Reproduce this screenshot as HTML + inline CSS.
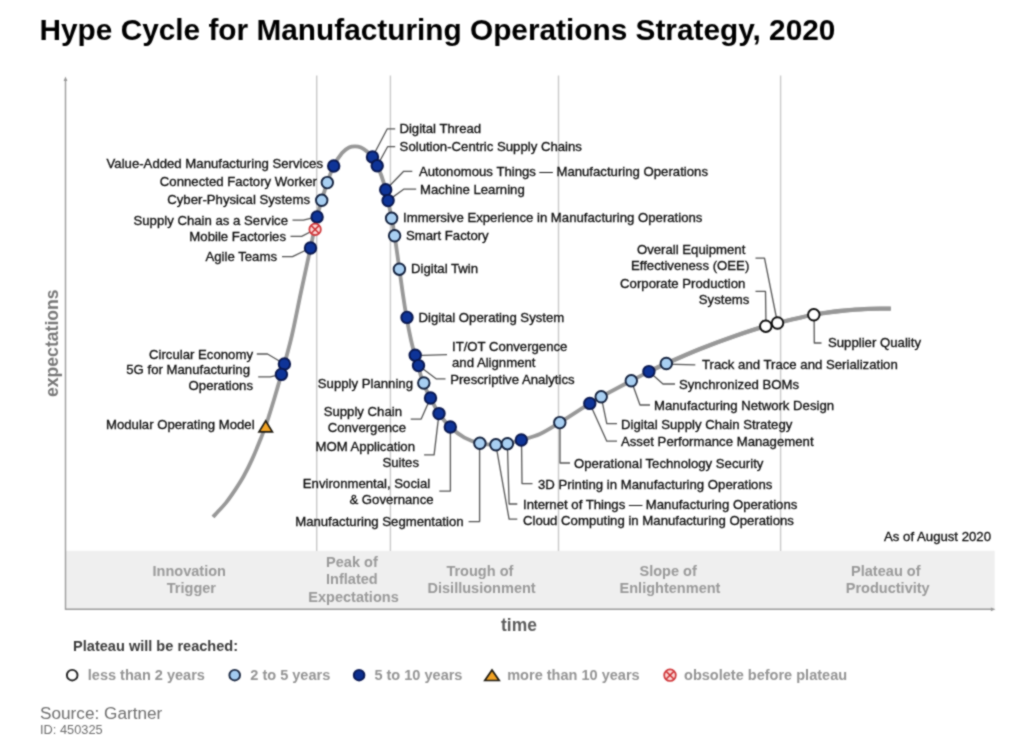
<!DOCTYPE html>
<html lang="en"><head><meta charset="utf-8">
<title>Hype Cycle for Manufacturing Operations Strategy, 2020</title>
<style>
html,body{margin:0;padding:0;background:#fff;}
body{width:1024px;height:748px;overflow:hidden;}
svg{display:block;font-family:"Liberation Sans", sans-serif;}
.lb{font-size:13.18px;fill:#0c0c0c;stroke:#0c0c0c;stroke-width:0.3px;}
.ph{font-size:14.54px;font-weight:bold;fill:#999;text-anchor:middle;}
.lg{font-size:14.54px;font-weight:bold;fill:#949494;}
.ld{fill:none;stroke:#555;stroke-width:1.3;stroke-linejoin:round;}
.dk{fill:#0e3498;stroke:#09174e;stroke-width:1.9;}
.lt{fill:#a8cff2;stroke:#12203d;stroke-width:1.9;}
.wh{fill:#ffffff;stroke:#0c0c0c;stroke-width:1.9;}
.tr{fill:#f2a324;stroke:#1e1a10;stroke-width:1.7;stroke-linejoin:miter;}
.ob{fill:#fbd9d6;stroke:#cf3438;stroke-width:1.7;}
</style></head><body>
<svg width="1024" height="748" viewBox="0 0 1024 748">
<rect width="1024" height="748" fill="#ffffff"/>
<defs><filter id="soft" x="0" y="0" width="1024" height="748" filterUnits="userSpaceOnUse" color-interpolation-filters="sRGB"><feConvolveMatrix order="3" kernelMatrix="1 2 1 2 8 2 1 2 1" divisor="20" edgeMode="duplicate" preserveAlpha="true"/></filter></defs>
<g filter="url(#soft)">
<rect width="1024" height="748" fill="#ffffff"/>
<text x="39.5" y="39.9" font-size="29.8px" font-weight="bold" fill="#000">Hype Cycle for Manufacturing Operations Strategy, 2020</text>
<rect x="66" y="550.8" width="928.7" height="58.5" fill="#efefef"/>
<line x1="316.7" y1="75.5" x2="316.7" y2="551" stroke="#c9c9c9" stroke-width="1.4"/>
<line x1="390.4" y1="75.5" x2="390.4" y2="551" stroke="#c9c9c9" stroke-width="1.4"/>
<line x1="558.5" y1="75.5" x2="558.5" y2="551" stroke="#c9c9c9" stroke-width="1.4"/>
<line x1="780.6" y1="75.5" x2="780.6" y2="551" stroke="#c9c9c9" stroke-width="1.4"/>
<path d="M65.5,80V609.3H992" fill="none" stroke="#9c9c9c" stroke-width="1.4"/>
<path d="M65.5,76.5l-1.9,4.6h3.8z" fill="#979797"/>
<path d="M995.5,609.3l-4.6,-1.9v3.8z" fill="#979797"/>
<path d="M213.0,517.0C213.7,516.2 215.2,514.6 217.4,512.2C219.6,509.8 223.2,506.2 226.1,502.6C229.0,499.0 231.9,494.8 234.8,490.4C237.7,486.0 240.6,481.7 243.5,476.5C246.4,471.3 249.3,465.5 252.2,459.1C255.1,452.7 258.7,443.8 260.9,438.3C263.1,432.8 264.2,430.1 265.6,426.0C267.1,421.9 268.2,418.2 269.6,413.9C271.0,409.6 271.9,406.6 273.9,400.0C275.9,393.4 279.6,380.4 281.4,374.4C283.1,368.4 282.6,370.6 284.4,364.0C286.2,357.4 289.2,347.0 292.0,335.0C294.8,323.0 297.9,306.5 301.0,292.0C304.1,277.5 307.8,260.5 310.5,248.0C313.2,235.5 315.1,224.8 317.0,216.8C318.9,208.9 320.0,206.0 321.7,200.3C323.4,194.6 325.3,188.2 327.3,182.5C329.3,176.8 331.2,170.9 333.7,166.0C336.1,161.1 339.4,156.1 342.0,153.0C344.6,149.9 346.8,148.6 349.0,147.5C351.2,146.4 353.0,146.3 355.0,146.3C357.0,146.3 359.0,146.6 361.0,147.5C363.0,148.4 365.1,149.9 367.0,151.5C368.9,153.1 370.8,154.6 372.5,157.0C374.2,159.4 375.7,162.6 377.2,165.8C378.7,169.0 380.1,172.0 381.5,176.0C382.9,180.0 384.7,185.6 385.8,189.7C386.9,193.8 387.0,195.8 388.0,200.6C389.0,205.4 390.6,212.4 391.7,218.3C392.8,224.2 393.4,227.4 394.7,235.9C396.0,244.4 398.0,259.3 399.4,269.2C400.8,279.1 401.8,286.9 403.0,295.0C404.2,303.1 405.3,310.0 406.6,317.5C407.9,325.0 409.6,333.8 411.0,340.0C412.4,346.2 413.6,350.8 414.8,355.0C416.0,359.2 416.6,360.8 418.0,365.5C419.4,370.2 421.3,378.1 423.4,383.5C425.5,388.9 427.9,393.0 430.5,398.0C433.1,403.0 435.7,408.8 439.0,413.6C442.3,418.4 446.1,423.0 450.3,427.0C454.5,431.0 459.5,434.9 464.4,437.6C469.3,440.3 474.6,442.1 479.9,443.3C485.1,444.5 491.3,444.7 495.9,444.8C500.5,444.9 503.2,444.5 507.4,443.7C511.6,442.9 515.9,441.6 521.3,440.0C526.7,438.4 533.6,436.9 540.0,434.0C546.4,431.1 551.5,427.7 559.8,422.6C568.1,417.5 582.9,407.7 589.8,403.4C596.7,399.1 594.3,400.6 601.2,396.8C608.1,393.0 623.3,385.0 631.3,380.8C639.2,376.6 643.1,374.5 648.9,371.6C654.7,368.7 657.8,367.3 666.3,363.5C674.8,359.7 688.5,353.6 700.0,349.0C711.5,344.4 724.0,339.8 735.0,336.0C746.0,332.2 756.8,328.7 766.0,326.0C775.2,323.3 782.0,321.9 790.0,320.0C798.0,318.1 807.8,315.7 814.0,314.5C820.2,313.3 822.7,313.2 827.0,312.6C831.3,312.0 835.3,311.5 840.0,311.0C844.7,310.5 850.3,310.0 855.0,309.6C859.7,309.2 863.8,309.0 868.0,308.8C872.2,308.6 876.2,308.6 880.0,308.6C883.8,308.6 889.0,308.6 890.8,308.6" fill="none" stroke="#989898" stroke-width="3.8" stroke-linecap="butt" stroke-linejoin="round"/>
<path d="M648.9,371.6C651.8,370.2 657.8,367.3 666.3,363.5C674.8,359.7 688.5,353.6 700.0,349.0C711.5,344.4 724.0,339.8 735.0,336.0C746.0,332.2 756.8,328.7 766.0,326.0C775.2,323.3 782.0,321.9 790.0,320.0C798.0,318.1 807.8,315.7 814.0,314.5C820.2,313.3 822.7,313.2 827.0,312.6C831.3,312.0 835.3,311.5 840.0,311.0C844.7,310.5 850.3,310.0 855.0,309.6C859.7,309.2 863.8,309.0 868.0,308.8C872.2,308.6 876.2,308.6 880.0,308.6C883.8,308.6 889.0,308.6 890.8,308.6" fill="none" stroke="#989898" stroke-width="4.3" stroke-linecap="butt" stroke-linejoin="round"/>
<polyline class="ld" points="292.5,220.2 303.3,220.2 317,216.8"/>
<polyline class="ld" points="290.5,236.3 301.7,236.3 315,229.5"/>
<polyline class="ld" points="282,256.6 292.5,256.6 310.5,248"/>
<polyline class="ld" points="256.8,354 267.5,354 284.4,364"/>
<polyline class="ld" points="258.2,376.8 270.2,376.8 281.4,374.4"/>
<polyline class="ld" points="395.2,128.8 387.3,128.8 372.5,157"/>
<polyline class="ld" points="395.2,146.7 387.6,146.7 377.2,165.8"/>
<polyline class="ld" points="412.3,171.3 403.7,171.3 385.8,189.7"/>
<polyline class="ld" points="416.2,189.2 403.7,189.2 388,200.6"/>
<polyline class="ld" points="447,354.6 415.2,355.6"/>
<polyline class="ld" points="445.5,378.9 436.4,378.9 418.5,365.6"/>
<polyline class="ld" points="410.7,419.1 421.2,419.1 430.5,398"/>
<polyline class="ld" points="424.1,454.8 434.1,454.8 439,413.6"/>
<polyline class="ld" points="439.3,491.1 450.4,491.1 450.4,427"/>
<polyline class="ld" points="468.6,521.6 479.6,521.6 479.6,443.3"/>
<polyline class="ld" points="517.3,519.2 509.1,519.2 495.9,444.8"/>
<polyline class="ld" points="517.3,504 509.1,504 507.4,443.7"/>
<polyline class="ld" points="532.5,483.6 522,483.6 521.5,440"/>
<polyline class="ld" points="570,463 560,463 560,422.6"/>
<polyline class="ld" points="617,441.2 606.8,441.2 589.8,403.4"/>
<polyline class="ld" points="617,423.7 606.8,423.7 601.2,396.8"/>
<polyline class="ld" points="650,405 640,405 631.3,380.8"/>
<polyline class="ld" points="675,384 663,384 648.9,371.6"/>
<polyline class="ld" points="695.3,364.9 666.3,364.2"/>
<polyline class="ld" points="821.5,343 814.3,343 814.1,314.8"/>
<polyline class="ld" points="755.5,258.2 764.5,258.2 777.5,323"/>
<polyline class="ld" points="755.5,291.4 765.5,291.4 766,326.2"/>
<circle class="dk" cx="333.7" cy="166" r="5.75"/>
<circle class="lt" cx="327.3" cy="182.6" r="5.75"/>
<circle class="lt" cx="321.7" cy="200.3" r="5.75"/>
<circle class="dk" cx="317.1" cy="216.9" r="5.75"/>
<circle class="ob" cx="315.1" cy="229.4" r="5.75"/><path d="M311.54,225.84L318.67,232.97M318.67,225.84L311.54,232.97" stroke="#cf3438" stroke-width="1.6" fill="none"/>
<circle class="dk" cx="310.5" cy="248" r="5.75"/>
<circle class="dk" cx="284.4" cy="364" r="5.75"/>
<circle class="dk" cx="281.4" cy="374.4" r="5.75"/>
<path class="tr" d="M265.7,420.9L272.4,431.9H259.0Z"/>
<circle class="dk" cx="372.5" cy="157" r="5.75"/>
<circle class="dk" cx="377.2" cy="165.8" r="5.75"/>
<circle class="dk" cx="385.7" cy="189.8" r="5.75"/>
<circle class="dk" cx="388.1" cy="200.6" r="5.75"/>
<circle class="lt" cx="391.6" cy="218.3" r="5.75"/>
<circle class="lt" cx="394.6" cy="235.8" r="5.75"/>
<circle class="lt" cx="399.4" cy="269.2" r="5.75"/>
<circle class="dk" cx="407.0" cy="317.4" r="5.75"/>
<circle class="dk" cx="415.2" cy="355.2" r="5.75"/>
<circle class="dk" cx="418.5" cy="365.6" r="5.75"/>
<circle class="lt" cx="423.8" cy="383.0" r="5.75"/>
<circle class="dk" cx="430.5" cy="398" r="5.75"/>
<circle class="dk" cx="439" cy="413.6" r="5.75"/>
<circle class="dk" cx="450.3" cy="427" r="5.75"/>
<circle class="lt" cx="479.9" cy="443.3" r="5.75"/>
<circle class="lt" cx="495.9" cy="444.8" r="5.75"/>
<circle class="lt" cx="507.4" cy="443.7" r="5.75"/>
<circle class="dk" cx="521.3" cy="440" r="5.75"/>
<circle class="lt" cx="559.8" cy="422.6" r="5.75"/>
<circle class="dk" cx="589.8" cy="403.4" r="5.75"/>
<circle class="lt" cx="601.2" cy="396.8" r="5.75"/>
<circle class="lt" cx="631.3" cy="380.8" r="5.75"/>
<circle class="dk" cx="648.9" cy="371.6" r="5.75"/>
<circle class="lt" cx="666.3" cy="363.5" r="5.75"/>
<circle class="wh" cx="765.8" cy="326.2" r="5.75"/>
<circle class="wh" cx="777.5" cy="323" r="5.75"/>
<circle class="wh" cx="813.8" cy="314.8" r="5.75"/>
<text class="lb" x="323" y="167.5" text-anchor="end">Value-Added Manufacturing Services</text>
<text class="lb" x="317" y="186" text-anchor="end">Connected Factory Worker</text>
<text class="lb" x="310" y="204" text-anchor="end">Cyber-Physical Systems</text>
<text class="lb" x="288" y="224.5" text-anchor="end">Supply Chain as a Service</text>
<text class="lb" x="286" y="241" text-anchor="end">Mobile Factories</text>
<text class="lb" x="277" y="261.1" text-anchor="end">Agile Teams</text>
<text class="lb" x="253" y="358.5" text-anchor="end">Circular Economy</text>
<text class="lb" text-anchor="end"><tspan x="250" y="374">5G for Manufacturing</tspan><tspan x="253" y="389.5"> Operations</tspan></text>
<text class="lb" x="254.6" y="429" text-anchor="end">Modular Operating Model</text>
<text class="lb" x="413" y="387.5" text-anchor="end">Supply Planning</text>
<text class="lb" text-anchor="end"><tspan x="402" y="416">Supply Chain</tspan><tspan x="406" y="432"> Convergence</tspan></text>
<text class="lb" text-anchor="end"><tspan x="415" y="451">MOM Application</tspan><tspan x="419" y="467"> Suites</tspan></text>
<text class="lb" text-anchor="end"><tspan x="430.2" y="488.2">Environmental, Social</tspan><tspan x="433.6" y="503.6"> &amp; Governance</tspan></text>
<text class="lb" x="463.6" y="526.1" text-anchor="end">Manufacturing Segmentation</text>
<text class="lb" x="399.4" y="133.1" text-anchor="start">Digital Thread</text>
<text class="lb" x="399.6" y="150.9" text-anchor="start">Solution-Centric Supply Chains</text>
<text class="lb" x="419" y="176" text-anchor="start">Autonomous Things — Manufacturing Operations</text>
<text class="lb" x="420" y="193.5" text-anchor="start">Machine Learning</text>
<text class="lb" x="403" y="222" text-anchor="start">Immersive Experience in Manufacturing Operations</text>
<text class="lb" x="406" y="240" text-anchor="start">Smart Factory</text>
<text class="lb" x="411" y="273" text-anchor="start">Digital Twin</text>
<text class="lb" x="418.6" y="321.7" text-anchor="start">Digital Operating System</text>
<text class="lb" text-anchor="start"><tspan x="452" y="351">IT/OT Convergence </tspan><tspan x="452" y="366.9">and Alignment</tspan></text>
<text class="lb" x="450.2" y="383.7" text-anchor="start">Prescriptive Analytics</text>
<text class="lb" x="574" y="467.5" text-anchor="start">Operational Technology Security</text>
<text class="lb" x="538" y="488.5" text-anchor="start">3D Printing in Manufacturing Operations</text>
<text class="lb" x="523" y="508.5" text-anchor="start">Internet of Things — Manufacturing Operations</text>
<text class="lb" x="523" y="524.5" text-anchor="start">Cloud Computing in Manufacturing Operations</text>
<text class="lb" x="621" y="445.5" text-anchor="start">Asset Performance Management</text>
<text class="lb" x="621" y="428.5" text-anchor="start">Digital Supply Chain Strategy</text>
<text class="lb" x="654" y="409.5" text-anchor="start">Manufacturing Network Design</text>
<text class="lb" x="679" y="388.5" text-anchor="start">Synchronized BOMs</text>
<text class="lb" x="702" y="369.4" text-anchor="start">Track and Trace and Serialization</text>
<text class="lb" x="828" y="346.5" text-anchor="start">Supplier Quality</text>
<text class="lb" text-anchor="end"><tspan x="745.3" y="253.8">Overall Equipment</tspan><tspan x="749.3" y="269.8"> Effectiveness (OEE)</tspan></text>
<text class="lb" text-anchor="end"><tspan x="745.3" y="287.6">Corporate Production</tspan><tspan x="749.3" y="303.7"> Systems</tspan></text>
<text class="lb" x="991" y="541.2" text-anchor="end">As of August 2020</text>
<text class="ph"><tspan x="191.22" y="575.8">Innovation </tspan><tspan x="191.40" y="593.2">Trigger</tspan></text>
<text class="ph"><tspan x="353.92" y="566.8">Peak of </tspan><tspan x="353.92" y="584.4">Inflated </tspan><tspan x="353.50" y="602.0">Expectations</tspan></text>
<text class="ph"><tspan x="481.92" y="575.8">Trough of </tspan><tspan x="481.60" y="593.2">Disillusionment</tspan></text>
<text class="ph"><tspan x="670.12" y="575.8">Slope of </tspan><tspan x="670.00" y="593.2">Enlightenment</tspan></text>
<text class="ph"><tspan x="887.82" y="575.6">Plateau of </tspan><tspan x="887.70" y="593.0">Productivity</tspan></text>
<text x="519" y="631.1" font-size="17.45px" font-weight="bold" fill="#5c5c5c" text-anchor="middle">time</text>
<text transform="translate(58,343.2) rotate(-90)" font-size="17.6px" font-weight="bold" fill="#777" text-anchor="middle">expectations</text>
<text x="73.1" y="650.5" font-size="14.55px" font-weight="bold" fill="#3c3c3c">Plateau will be reached:</text>
<circle cx="72.2" cy="675.2" r="5.3" fill="#fff" stroke="#222" stroke-width="1.9"/>
<text class="lg" x="87.8" y="679.5">less than 2 years</text>
<circle cx="234.7" cy="675.2" r="5.3" fill="#a3cbf0" stroke="#1c2a44" stroke-width="1.9"/>
<text class="lg" x="250.3" y="679.5">2 to 5 years</text>
<circle cx="359.1" cy="675.2" r="5.3" fill="#0d2f8f" stroke="#0a1a55" stroke-width="1.9"/>
<text class="lg" x="374.4" y="679.5">5 to 10 years</text>
<path class="tr" d="M492,670.0L499.2,680.5H484.8Z"/>
<text class="lg" x="507.2" y="679.5">more than 10 years</text>
<circle class="ob" cx="670" cy="675.2" r="5.8"/><path d="M666.40,671.60L673.60,678.80M673.60,671.60L666.40,678.80" stroke="#cf3438" stroke-width="1.6" fill="none"/>
<text class="lg" x="684" y="679.5">obsolete before plateau</text>
<text x="40" y="718.7" font-size="17.2px" fill="#6e6e6e">Source: Gartner</text>
<text x="40" y="734.2" font-size="12.8px" fill="#6e6e6e">ID: 450325</text>
</g>
</svg>
</body></html>
